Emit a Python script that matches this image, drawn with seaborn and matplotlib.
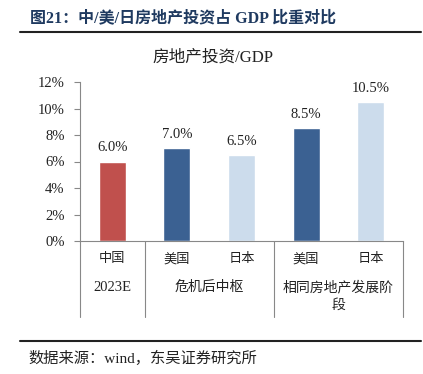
import matplotlib
matplotlib.use("Agg")
import matplotlib.pyplot as plt
import matplotlib.transforms as mtransforms
import seaborn as sns
import pandas as pd

# ---- data ----
keys = ["cn", "us1", "jp1", "us2", "jp2"]
countries = ["中国", "美国", "日本", "美国", "日本"]
values = [6.0, 7.0, 6.5, 8.5, 10.5]
value_labels = ["6.0%", "7.0%", "6.5%", "8.5%", "10.5%"]
groups = ["2023E", "危机后中枢", "相同房地产发展阶\n段"]
group_sizes = [1, 2, 2]
yticks = [0, 2, 4, 6, 8, 10, 12]
ytick_labels = ["0%", "2%", "4%", "6%", "8%", "10%", "12%"]
colors = ["#C0504D", "#3B6192", "#CCDCEC", "#3B6192", "#CCDCEC"]

sns.set_theme(style="white")
FAM = ["Liberation Serif", "Noto Sans CJK SC", "DejaVu Sans"]
plt.rcParams["font.family"] = FAM

df = pd.DataFrame({"key": keys, "value": values})

fig = plt.figure(figsize=(4.23, 3.74), dpi=100)
ax = fig.add_axes([80 / 423, 1 - 241 / 374, 323 / 423, 159 / 374])

sns.barplot(data=df, x="key", y="value", hue="key", order=keys,
            palette=dict(zip(keys, colors)), width=0.42, legend=False,
            saturation=1, ax=ax)

ax.set_ylim(0, 12)
ax.set_xlim(-0.5, len(keys) - 0.5)
ax.set_yticks(yticks)
ax.set_yticklabels(ytick_labels, fontsize=10.5, color="#222222")
ax.set_xticks([])
ax.set_xlabel("")
ax.set_ylabel("")
for s in ["top", "right"]:
    ax.spines[s].set_visible(False)
for s in ["left", "bottom"]:
    ax.spines[s].set_color("#888888")
    ax.spines[s].set_linewidth(0.8)
ax.tick_params(axis="y", which="both", left=True, length=4, width=0.8,
               color="#888888", pad=7)

# value labels
for i, (v, lab) in enumerate(zip(values, value_labels)):
    ax.text(i, v + 0.55, lab, ha="center", va="bottom", fontsize=10.5,
            color="#222222")

# multi-level x axis
trans = mtransforms.blended_transform_factory(ax.transData, ax.transAxes)
for i, c in enumerate(countries):
    ax.text(i, -0.115, c, transform=trans, ha="center", va="center",
            fontsize=9.5, color="#222222", family=FAM)
bounds = [-0.5]
pos = -0.5
for n in group_sizes:
    pos += n
    bounds.append(pos)
for b in bounds:
    ax.plot([b, b], [0, -0.478], transform=trans, color="#888888",
            lw=0.8, clip_on=False)
for g, n, lo in zip(groups, group_sizes, bounds[:-1]):
    fs = 10.5 if g.isascii() else 10
    ax.text(lo + n / 2, -0.25, g, transform=trans, ha="center", va="top",
            fontsize=fs, color="#222222", linespacing=1.45, family=FAM)

# subtitle
fig.text(213 / 423, 1 - 58 / 374, "房地产投资/GDP", ha="center", va="center",
         fontsize=12, color="#222222", family=FAM)

# header & footer
fig.text(30 / 423, 1 - 18 / 374, "图21：中/美/日房地产投资占 GDP 比重对比",
         ha="left", va="center", fontsize=11.5, fontweight="bold",
         color="#1F3A60", family=FAM)
fig.add_artist(plt.Line2D([20 / 423, 421 / 423], [1 - 32 / 374, 1 - 32 / 374],
                          color="#222222", lw=1.5))
fig.add_artist(plt.Line2D([20 / 423, 421 / 423], [1 - 341 / 374, 1 - 341 / 374],
                          color="#222222", lw=1.5))
fig.text(28 / 423, 1 - 358 / 374, "数据来源：wind，东吴证券研究所",
         ha="left", va="center", fontsize=11, color="#222222", family=FAM)

fig.savefig("out.png", dpi=100)
